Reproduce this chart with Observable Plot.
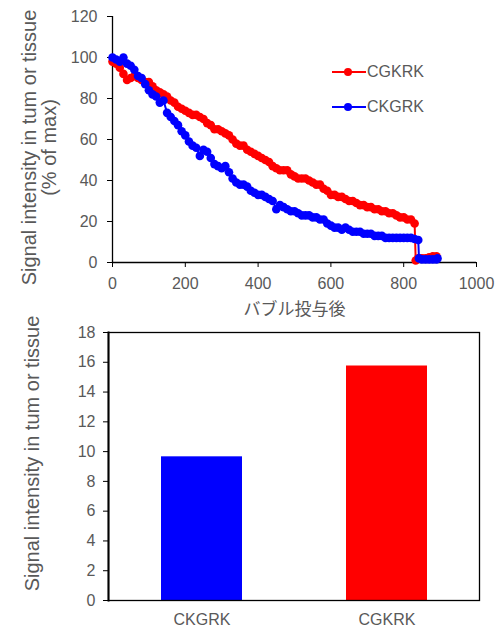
<!DOCTYPE html>
<html>
<head>
<meta charset="utf-8">
<script src="https://cdn.jsdelivr.net/npm/d3@7"></script>
<script src="https://cdn.jsdelivr.net/npm/@observablehq/plot@0.6"></script>
<style>
  html, body { margin: 0; padding: 0; background: #fff; }
  #wrap { position: relative; width: 496px; height: 630px; font-family: "Liberation Sans", Arial, "Noto Sans CJK JP", sans-serif; }
  #topChart, #bottomChart { position: absolute; left: 0; }
  #topChart { top: 0; }
  #bottomChart { top: 300px; }
  #legend { position: absolute; left: 332px; top: 60px; color: #595959; font-size: 16px; }
  .lg { display: flex; align-items: center; height: 24px; margin-bottom: 11px; }
  .lg span { margin-left: 1px; }
  svg [aria-label$="tick label"] { fill: #595959; }
</style>
</head>
<body>
<div id="wrap">
  <div id="topChart"></div>
  <div id="bottomChart"></div>
  <div id="legend"></div>
</div>
<script>
// ---- Data: time course (top chart) ----
const xTicks = [0, 200, 400, 600, 800, 1000];
const yTicksTop = [0, 20, 40, 60, 80, 100, 120];

const redX = [0,10,20,30,40,50,60,70,80,90,100,110,120,130,140,150,160,170,180,190,200,210,220,230,240,250,260,270,280,290,300,310,320,330,340,350,360,370,380,390,400,410,420,430,440,450,460,470,480,490,500,510,520,530,540,550,560,570,580,590,600,610,620,630,640,650,660,670,680,690,700,710,720,730,740,750,760,770,780,790,800,810,820,830,833,840,850,860,870,880,890];
const redY = [98,97,95,92,89,90,91,90,89,88,88,86,84,83,82,81,79,78,76,75,74,73,72,72,71,70,68,67,65,65,64,63,62,60,58,57,57,55,54,53,52,51,50,49,47,46,45,45,45,43,42,41,41,41,40,39,38,38,36,35,33,33,32,32,31,30,30,29,28,28,27,27,26,26,25,25,24,24,23,22,22,21,21,19,1,2,2,2,2.5,3,3];

const blueX = [0,10,20,30,40,50,60,70,80,90,100,110,120,130,140,150,160,170,180,190,200,210,220,230,240,250,260,270,280,290,300,310,320,330,340,350,360,370,380,390,400,410,420,430,440,450,460,470,480,490,500,510,520,530,540,550,560,570,580,590,600,610,620,630,640,650,660,670,680,690,700,710,720,730,740,750,760,770,780,790,800,810,820,830,840,842,850,860,870,880,890,893];
const blueY = [100,99,98,100,97,96,94,91,90,87,84,82,81,78,79,73,71,69,67,64,62,59,57,56,52,55,54,51,48,47,46,47,44,41,39,38,38,37,35,34,33,33,32,31,30,26,28,27,26,25,25,24,23,23,23,22,22,21,21,19,18,17,17,16,17,16,15,15,15,14,14,14,13,13,13,12,12,12,12,12,12,12,12,11.5,11,2,1.5,1.5,1.5,1.5,1.5,2];

const seriesNames = ["CGKRK", "CKGRK"];
const seriesColors = ["#ff0000", "#0000ff"];

// ---- Data: bar chart (bottom) ----
const barCats = ["CKGRK", "CGKRK"];
const barVals = [9.65, 15.75];
const barColors = ["#0000ff", "#ff0000"];
const yTicksBottom = [0, 2, 4, 6, 8, 10, 12, 14, 16, 18];

const yLabel = "Signal intensity in tum or tissue";
const yLabel2 = "(% of max)";
const xLabel = "バブル投与後";

const fontFamily = "'Liberation Sans', Arial, 'Noto Sans CJK JP', sans-serif";

const redData = redX.map((x, i) => ({x, y: redY[i]}));
const blueData = blueX.map((x, i) => ({x, y: blueY[i]}));

const topPlot = Plot.plot({
  width: 496, height: 320,
  marginLeft: 112, marginRight: 20, marginTop: 16, marginBottom: 58,
  style: {fontFamily, fontSize: "16px", background: "none", overflow: "visible"},
  x: {domain: [0, 1000]},
  y: {domain: [0, 120]},
  marks: [
    Plot.axisX({ticks: xTicks, tickFormat: d3.format("d"), tickSize: 5, tickPadding: 10, label: null, stroke: "black"}),
    Plot.axisY({ticks: yTicksTop, tickFormat: d3.format("d"), tickSize: 5, tickPadding: 10, label: null, stroke: "black"}),
    Plot.ruleY([0], {stroke: "black", strokeWidth: 1.3}),
    Plot.ruleX([0], {stroke: "black", strokeWidth: 1.3}),
    Plot.line(redData, {x: "x", y: "y", stroke: seriesColors[0], strokeWidth: 2}),
    Plot.dot(redData, {x: "x", y: "y", r: 4.3, fill: seriesColors[0], stroke: null}),
    Plot.line(blueData, {x: "x", y: "y", stroke: seriesColors[1], strokeWidth: 2}),
    Plot.dot(blueData, {x: "x", y: "y", r: 4.3, fill: seriesColors[1], stroke: null}),
    Plot.text([xLabel], {frameAnchor: "bottom", dy: 52, fontSize: 17, fill: "#595959"}),
    Plot.text([yLabel + "\n" + yLabel2], {frameAnchor: "left", textAnchor: "middle", lineAnchor: "middle", rotate: -90, dx: -73, dy: 8, fontSize: 20, lineHeight: 1.0, fill: "#595959"})
  ]
});
document.getElementById("topChart").appendChild(topPlot);

const bars = barCats.map((c, i) => ({c, v: barVals[i], color: barColors[i]}));
const bottomPlot = Plot.plot({
  width: 496, height: 330,
  marginLeft: 108, marginRight: 17, marginTop: 32, marginBottom: 30,
  style: {fontFamily, fontSize: "16px", background: "none", overflow: "visible"},
  x: {domain: barCats, padding: 0},
  y: {domain: [0, 18]},
  marks: [
    Plot.barY(bars, {x: "c", y: "v", fill: "color", insetLeft: 52, insetRight: 52}),
    Plot.frame({stroke: "black", strokeWidth: 1.3}),
    Plot.frame({anchor: "left", stroke: "black", strokeWidth: 2}),
    Plot.axisX({tickSize: 0, tickPadding: 13, label: null}),
    Plot.axisY({ticks: yTicksBottom, tickSize: 5, tickPadding: 8, label: null, stroke: "black"}),
    Plot.text([yLabel], {frameAnchor: "left", textAnchor: "middle", lineAnchor: "middle", rotate: -90, dx: -76, dy: -13, fontSize: 20, fill: "#595959"})
  ]
});
document.getElementById("bottomChart").appendChild(bottomPlot);

// ---- Legend (HTML) ----
const legend = document.getElementById("legend");
seriesNames.forEach((name, i) => {
  const row = document.createElement("div");
  row.className = "lg";
  row.innerHTML = `<svg width="34" height="12"><line x1="0" x2="34" y1="6" y2="6" stroke="${seriesColors[i]}" stroke-width="2"/><circle cx="16" cy="6" r="4" fill="${seriesColors[i]}"/></svg><span>${name}</span>`;
  legend.appendChild(row);
});
</script>
</body>
</html>
